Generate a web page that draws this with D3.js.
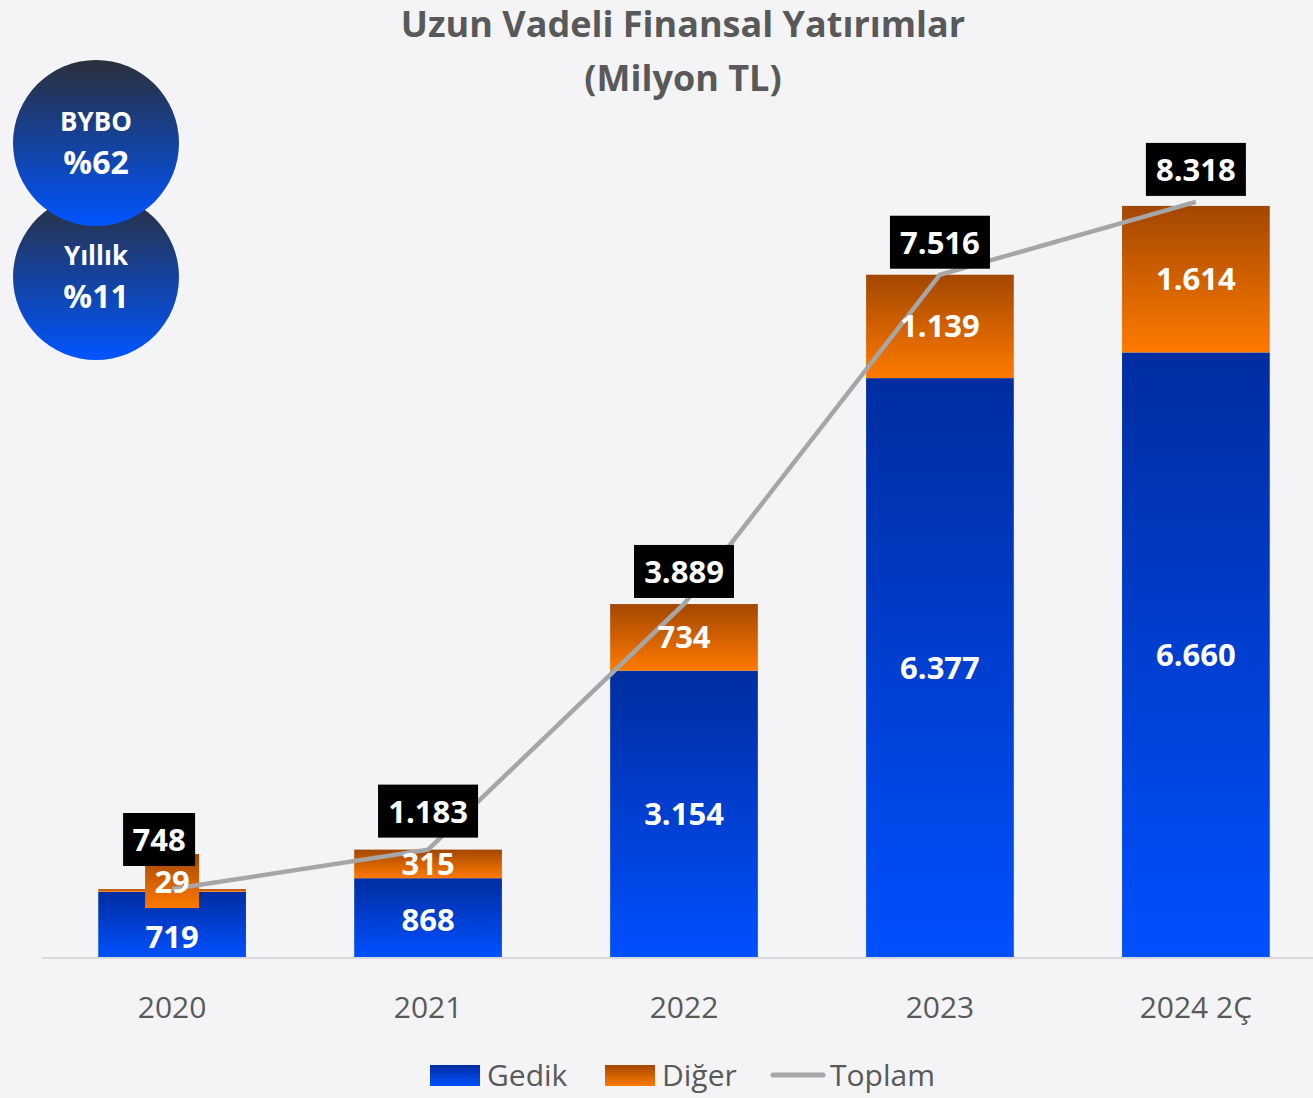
<!DOCTYPE html>
<html>
<head>
<meta charset="utf-8">
<script src="https://cdn.jsdelivr.net/npm/d3@7"></script>
<style>
  body { margin: 0; background: #f4f4f6; }
  svg { display: block; font-family: "Open Sans", sans-serif; }
</style>
</head>
<body>
<div class="chart"></div>
<script>
const years = ["2020", "2021", "2022", "2023", "2024 2Ç"]
const gedik = [719, 868, 3154, 6377, 6660]
const diger = [29, 315, 734, 1139, 1614]
const toplam = [748, 1183, 3889, 7516, 8318]
const badges = [["BYBO", "%62"], ["Yıllık", "%11"]]

const fmt = v => d3.format(",")(v).replace(/,/g, ".")

const W = 1313, H = 1098

const svg = d3.select(".chart").append("svg")
  .attr("width", W)
  .attr("height", H)

svg.append("rect").attr("width", W).attr("height", H).attr("fill", "#f4f4f6")

const defs = svg.append("defs")
function grad(id, top, bottom) {
  const g = defs.append("linearGradient").attr("id", id)
    .attr("x1", 0).attr("y1", 0).attr("x2", 0).attr("y2", 1)
  g.append("stop").attr("offset", "0%").attr("stop-color", top)
  g.append("stop").attr("offset", "100%").attr("stop-color", bottom)
}
grad("gBlue", "#002da0", "#0050ff")
grad("gOrange", "#a34700", "#ff7a00")
grad("gCircle", "#2b2f3a", "#0055ff")

const xScale = d3.scaleBand()
  .domain(years)
  .range([44, 1324])
  .paddingInner(0.423)
  .paddingOuter(0.212)

const yScale = d3.scaleLinear()
  .domain([0, 9000])
  .range([957, 140])

// axis baseline
svg.append("line")
  .attr("x1", 42).attr("x2", W)
  .attr("y1", 958).attr("y2", 958)
  .attr("stroke", "#d9d9d9").attr("stroke-width", 2)

// x labels
svg.append("g").selectAll("text")
  .data(years)
  .enter().append("text")
  .attr("x", d => xScale(d) + xScale.bandwidth() / 2)
  .attr("y", 1018)
  .attr("text-anchor", "middle")
  .attr("font-size", 30)
  .attr("fill", "#595959")
  .text(d => d)

// bars
const rows = years.map((y, i) => ({year: y, g: gedik[i], d: diger[i], t: toplam[i]}))

svg.append("g").selectAll("rect")
  .data(rows)
  .enter().append("rect")
  .attr("x", d => xScale(d.year))
  .attr("width", xScale.bandwidth())
  .attr("y", d => yScale(d.g))
  .attr("height", d => yScale(0) - yScale(d.g))
  .attr("fill", "url(#gBlue)")

svg.append("g").selectAll("rect")
  .data(rows)
  .enter().append("rect")
  .attr("x", d => xScale(d.year))
  .attr("width", xScale.bandwidth())
  .attr("y", d => yScale(d.g + d.d))
  .attr("height", d => yScale(d.g) - yScale(d.g + d.d))
  .attr("fill", "url(#gOrange)")

// total line
const line = d3.line()
  .x(d => xScale(d.year) + xScale.bandwidth() / 2)
  .y(d => yScale(d.t))

// 2020 diger label box (small segment)
const cx = d => xScale(d.year) + xScale.bandwidth() / 2
svg.append("rect")
  .attr("x", cx(rows[0]) - 27)
  .attr("y", yScale(rows[0].t) - 35)
  .attr("width", 54)
  .attr("height", 54)
  .attr("fill", "url(#gOrange)")

svg.append("path")
  .datum(rows)
  .attr("fill", "none")
  .attr("stroke", "#a6a6a6")
  .attr("stroke-width", 4.5)
  .attr("d", line)

// gedik labels
svg.append("g").selectAll("text")
  .data(rows)
  .enter().append("text")
  .attr("x", cx)
  .attr("y", (d, i) => i == 0 ? 948 : (i == 1 ? 931 : (yScale(d.g) + yScale(0)) / 2 + 11))
  .attr("text-anchor", "middle")
  .attr("font-size", 31)
  .attr("font-weight", "bold")
  .attr("fill", "white")
  .text(d => fmt(d.g))

// diger labels
svg.append("g").selectAll("text")
  .data(rows)
  .enter().append("text")
  .attr("x", cx)
  .attr("y", (d, i) => i == 0 ? 893 : (yScale(d.g) + yScale(d.g + d.d)) / 2 + 11)
  .attr("text-anchor", "middle")
  .attr("font-size", 31)
  .attr("font-weight", "bold")
  .attr("fill", "white")
  .text(d => fmt(d.d))

// total labels
const tl = svg.append("g").selectAll("g")
  .data(rows)
  .enter().append("g")
  .attr("transform", (d, i) => `translate(${cx(d) - (i == 0 ? 13 : 0)},${i == 0 ? 840 : yScale(d.t) - (i == 1 ? 38 : 32)})`)

tl.append("rect")
  .attr("x", (d, i) => i == 0 ? -36 : -50)
  .attr("y", -27)
  .attr("width", (d, i) => i == 0 ? 72 : 100)
  .attr("height", 53)
  .attr("fill", "black")

tl.append("text")
  .attr("text-anchor", "middle")
  .attr("y", 11)
  .attr("font-size", 31)
  .attr("font-weight", "bold")
  .attr("fill", "white")
  .text(d => fmt(d.t))

// title
svg.append("text")
  .attr("x", 683).attr("y", 37)
  .attr("text-anchor", "middle")
  .attr("font-size", 36)
  .attr("font-weight", "bold")
  .attr("fill", "#595959")
  .text("Uzun Vadeli Finansal Yatırımlar")
svg.append("text")
  .attr("x", 683).attr("y", 91)
  .attr("text-anchor", "middle")
  .attr("font-size", 36)
  .attr("font-weight", "bold")
  .attr("fill", "#595959")
  .text("(Milyon TL)")

// badges (bottom one first so top one overlaps)
const bg = svg.append("g").selectAll("g")
  .data(badges.map((b, i) => ({label: b[0], val: b[1], i})).reverse())
  .enter().append("g")
  .attr("transform", d => `translate(96,${143 + d.i * 134})`)

bg.append("circle").attr("r", 83).attr("fill", "url(#gCircle)")
bg.append("text")
  .attr("text-anchor", "middle").attr("y", -12)
  .attr("font-size", 26).attr("font-weight", "bold").attr("fill", "white")
  .text(d => d.label)
bg.append("text")
  .attr("text-anchor", "middle").attr("y", 31)
  .attr("font-size", 32).attr("font-weight", "bold").attr("fill", "white")
  .text(d => d.val)

// legend
const lg = svg.append("g").attr("transform", "translate(430,1075)")
lg.append("rect").attr("x", 0).attr("y", -10).attr("width", 50).attr("height", 21).attr("fill", "url(#gBlue)")
lg.append("text").attr("x", 57).attr("y", 11).attr("font-size", 30).attr("fill", "#595959").text("Gedik")
lg.append("rect").attr("x", 175).attr("y", -10).attr("width", 50).attr("height", 21).attr("fill", "url(#gOrange)")
lg.append("text").attr("x", 232).attr("y", 11).attr("font-size", 30).attr("fill", "#595959").text("Diğer")
lg.append("line").attr("x1", 343).attr("x2", 393).attr("y1", 0).attr("y2", 0)
  .attr("stroke", "#a6a6a6").attr("stroke-width", 5).attr("stroke-linecap", "round")
lg.append("text").attr("x", 400).attr("y", 11).attr("font-size", 30).attr("fill", "#595959").text("Toplam")
</script>
</body>
</html>
